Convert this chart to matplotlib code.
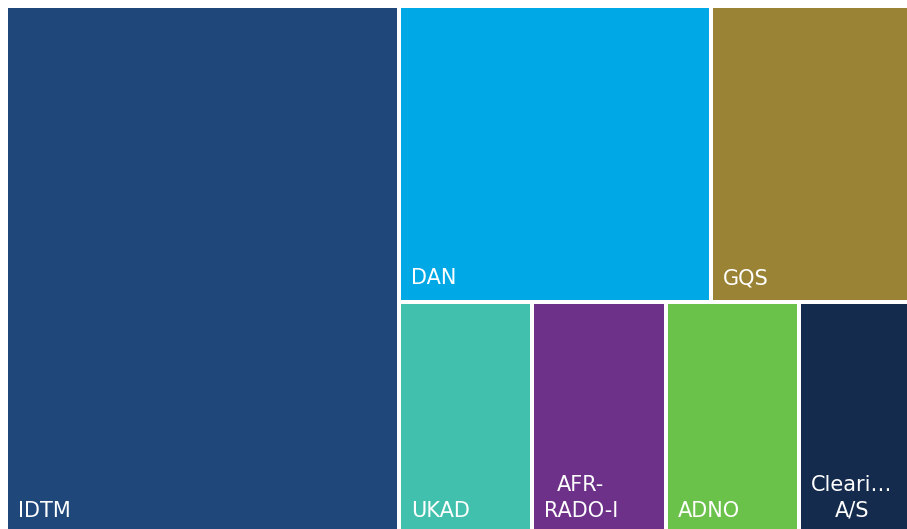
import matplotlib
matplotlib.use("Agg")
import matplotlib.pyplot as plt
from matplotlib.patches import Rectangle

labels = ["IDTM", "DAN", "GQS", "UKAD", "AFR-\nRADO-I", "ADNO", "Cleari…\nA/S"]
values = [434.0, 193.0, 124.0, 64.7, 65.2, 64.7, 54.5]
colors = ["#1f477a", "#01a8e6", "#9b8336", "#41c1ad", "#6e318a", "#6bc24b", "#142b4d"]


def worst(row, w):
    s = sum(row)
    return max(max(w * w * r / (s * s), (s * s) / (w * w * r)) for r in row)


def squarify(vals, x, y, dx, dy):
    total = sum(vals)
    scale = dx * dy / total
    areas = [v * scale for v in vals]
    rects = []
    i = 0
    while i < len(areas):
        w = min(dx, dy)
        row = [areas[i]]
        j = i + 1
        while j < len(areas) and worst(row + [areas[j]], w) <= worst(row, w):
            row.append(areas[j])
            j += 1
        s = sum(row)
        if dx >= dy:
            cw = s / dy
            cy = y
            for a in row:
                h = a / cw
                rects.append((x, cy, cw, h))
                cy += h
            x += cw
            dx -= cw
        else:
            rh = s / dx
            cx = x
            for a in row:
                wd = a / rh
                rects.append((cx, y, wd, rh))
                cx += wd
            y += rh
            dy -= rh
        i = j
    return rects


W, H = 907, 529
fig = plt.figure(figsize=(W / 100, H / 100), dpi=100)
ax = fig.add_axes([0, 0, 1, 1])
ax.set_xlim(0, W)
ax.set_ylim(H, 0)
ax.axis("off")

rects = squarify(values, 6, 6, 905, 529)
gap = 2
for (x, y, w, h), lab, c in zip(rects, labels, colors):
    ax.add_patch(Rectangle((x + gap, y + gap), w - 2 * gap, h - 2 * gap,
                           facecolor=c, edgecolor="none"))
    ax.text(x + gap + 10, y + h - gap - 16, lab, color="white", fontsize=15,
            family="DejaVu Sans", ha="left", va="baseline",
            multialignment="center", linespacing=1.4)

fig.savefig("out.png", dpi=100)
